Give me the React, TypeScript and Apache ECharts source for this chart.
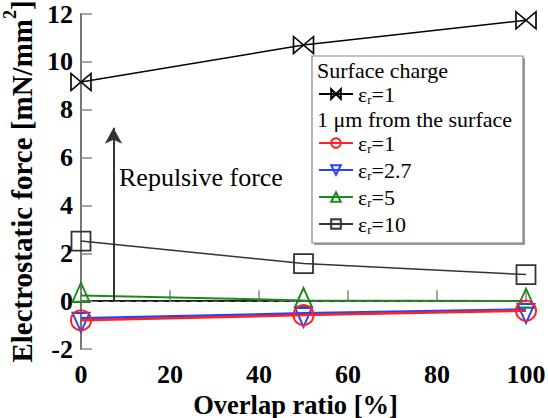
import React, { useEffect, useRef } from 'react';
import * as echarts from 'echarts';

const overlapRatio = [0, 50, 100];
const surfaceCharge = [9.16, 10.7, 11.74];
const eps1 = [-0.8, -0.58, -0.4];
const eps27 = [-0.72, -0.51, -0.35];
const eps5 = [0.24, 0.03, 0.0];
const eps10 = [2.51, 1.57, 1.11];
const arrowX = 7.3;
const arrowTop = 7.25;

const seriesNames = ['Surface εr=1', 'εr=1', 'εr=2.7', 'εr=5', 'εr=10'];
const legendValues: Record<string, string> = {
  'Surface εr=1': '1',
  'εr=1': '1',
  'εr=2.7': '2.7',
  'εr=5': '5',
  'εr=10': '10',
};

const FONT = '"Liberation Serif", "DejaVu Serif", serif';

const pairs = (ys: number[]) => overlapRatio.map((x, i) => [x, ys[i]]);

const legendRich = {
  a: { fontSize: 22, fontFamily: FONT, color: '#000', lineHeight: 22, verticalAlign: 'top' },
  b: { fontSize: 13, fontFamily: FONT, color: '#000', lineHeight: 13, padding: [10, 0, 0, 0], verticalAlign: 'top' },
};
const legendFormatter = (name: string) => `{a|ε}{b|r}{a|=${legendValues[name]}}`;

export default function App() {
  const ref = useRef<HTMLDivElement>(null);
  useEffect(() => {
    if (!ref.current) return;
    const chart = echarts.init(ref.current, undefined, { renderer: 'svg' });
    const hollow = (c: string, w: number) => ({ color: 'rgba(0,0,0,0)', borderColor: c, borderWidth: w });
    chart.setOption({
      animation: false,
      backgroundColor: '#fff',
      grid: { left: 81, right: 22, top: 14, bottom: 69, outerBoundsMode: 'none', containLabel: false },
      xAxis: [
        {
          type: 'value', min: 0, max: 100, interval: 20,
          name: 'Overlap ratio [%]', nameLocation: 'middle', nameGap: 34,
          nameTextStyle: { fontFamily: FONT, fontWeight: 'bold', fontSize: 26.5, lineHeight: 26, color: '#000', padding: [0, 16, 0, 0] },
          axisLine: { lineStyle: { color: '#444', width: 1.5 } },
          axisTick: { inside: true, length: 11, lineStyle: { color: '#888', width: 1.5 } },
          axisLabel: { fontFamily: FONT, fontWeight: 'bold', fontSize: 26, color: '#000', margin: 12 },
          splitLine: { show: false },
        },
        {
          type: 'value', min: 0, max: 100, position: 'top',
          axisLine: { show: true, lineStyle: { color: '#000', width: 1.5 } },
          axisTick: { show: false }, axisLabel: { show: false }, splitLine: { show: false },
        },
      ],
      yAxis: [
        {
          type: 'value', min: -2, max: 12, interval: 2,
          name: '{m|Electrostatic force [mN/mm}{s|2}{m|]}', nameLocation: 'middle', nameGap: 49,
          nameTextStyle: {
            fontFamily: FONT, fontWeight: 'bold', fontSize: 29, color: '#000',
            rich: {
              m: { fontFamily: FONT, fontWeight: 'bold', fontSize: 29, color: '#000', lineHeight: 29, padding: [6, 0, 0, 0], verticalAlign: 'top' },
              s: { fontFamily: FONT, fontWeight: 'bold', fontSize: 18, color: '#000', lineHeight: 18, verticalAlign: 'top' },
            },
          },
          axisLine: { show: true, lineStyle: { color: '#000', width: 1.5 } },
          axisTick: { inside: true, length: 11, lineStyle: { color: '#888', width: 1.5 } },
          axisLabel: { fontFamily: FONT, fontWeight: 'bold', fontSize: 26, color: '#000', margin: 8 },
          splitLine: { show: false },
        },
        {
          type: 'value', min: -2, max: 12, position: 'right',
          axisLine: { show: true, lineStyle: { color: '#888', width: 1.5 } },
          axisTick: { show: false }, axisLabel: { show: false }, splitLine: { show: false },
        },
      ],
      legend: [
        {
          data: [seriesNames[0]], orient: 'vertical', left: 318, top: 83,
          itemWidth: 34, itemHeight: 12, itemGap: 1, padding: 0,
          formatter: legendFormatter, textStyle: { rich: legendRich },
          selectedMode: false,
        },
        {
          data: seriesNames.slice(1), orient: 'vertical', left: 318, top: 132,
          itemWidth: 34, itemHeight: 12, itemGap: 4, padding: 0,
          formatter: legendFormatter, textStyle: { rich: legendRich },
          selectedMode: false,
        },
      ],
      graphic: [
        {
          type: 'rect', z: 1, shape: { x: 314, y: 58, width: 211, height: 187 },
          style: { fill: '#999', stroke: 'none' },
        },
        {
          type: 'rect', z: 2, shape: { x: 312, y: 56, width: 211, height: 187 },
          style: { fill: '#fff', stroke: '#888', lineWidth: 1.2 },
        },
        {
          type: 'text', z: 3, left: 317, top: 59,
          style: { text: 'Surface charge', fontFamily: FONT, fontSize: 22, lineHeight: 22, fill: '#000' },
        },
        {
          type: 'text', z: 3, left: 317, top: 108,
          style: { text: '1 μm from the surface', fontFamily: FONT, fontSize: 22, lineHeight: 22, fill: '#000' },
        },
        {
          type: 'text', z: 3, left: 119, top: 164,
          style: { text: 'Repulsive force', fontFamily: FONT, fontSize: 26, fill: '#000' },
        },
      ],
      series: [
        {
          name: seriesNames[0], type: 'line', data: pairs(surfaceCharge), z: 4,
          symbol: 'path://M0,0 L20,17 L20,0 L0,17 Z', symbolSize: [20, 17],
          lineStyle: { color: '#000', width: 1.5 }, itemStyle: hollow('#000', 1.5),
          markLine: {
            silent: true, symbol: ['none', 'none'], label: { show: false },
            data: [
              { yAxis: 0, lineStyle: { color: '#666', type: [6, 5], width: 1.2 } },
              [
                { coord: [arrowX, 0], symbol: 'none', lineStyle: { color: '#333', width: 2, type: 'solid' } },
                { coord: [arrowX, arrowTop], symbol: 'arrow', symbolSize: [13, 16] },
              ],
            ],
          },
        },
        {
          name: seriesNames[1], type: 'line', data: pairs(eps1), z: 6,
          symbol: 'circle', symbolSize: 20,
          lineStyle: { color: '#ff2222', width: 2.5 }, itemStyle: hollow('#ff2222', 2),
        },
        {
          name: seriesNames[2], type: 'line', data: pairs(eps27), z: 5,
          symbol: 'path://M0,0 L10,0 L5,10 Z', symbolSize: [17, 19], symbolOffset: [0, 4],
          lineStyle: { color: '#2244ff', width: 2.5 }, itemStyle: hollow('#2244ff', 2),
        },
        {
          name: seriesNames[3], type: 'line', data: pairs(eps5), z: 4,
          symbol: 'triangle', symbolSize: [17, 19], symbolOffset: [0, -3],
          lineStyle: { color: '#1a8a1a', width: 2 }, itemStyle: hollow('#1a8a1a', 2),
        },
        {
          name: seriesNames[4], type: 'line', data: pairs(eps10), z: 4,
          symbol: 'rect', symbolSize: 19,
          lineStyle: { color: '#333', width: 1.5 }, itemStyle: hollow('#333', 1.8),
        },
      ],
    });
    return () => chart.dispose();
  }, []);
  return <div ref={ref} style={{ width: 548, height: 418, position: 'absolute', left: 0, top: 0 }} />;
}
